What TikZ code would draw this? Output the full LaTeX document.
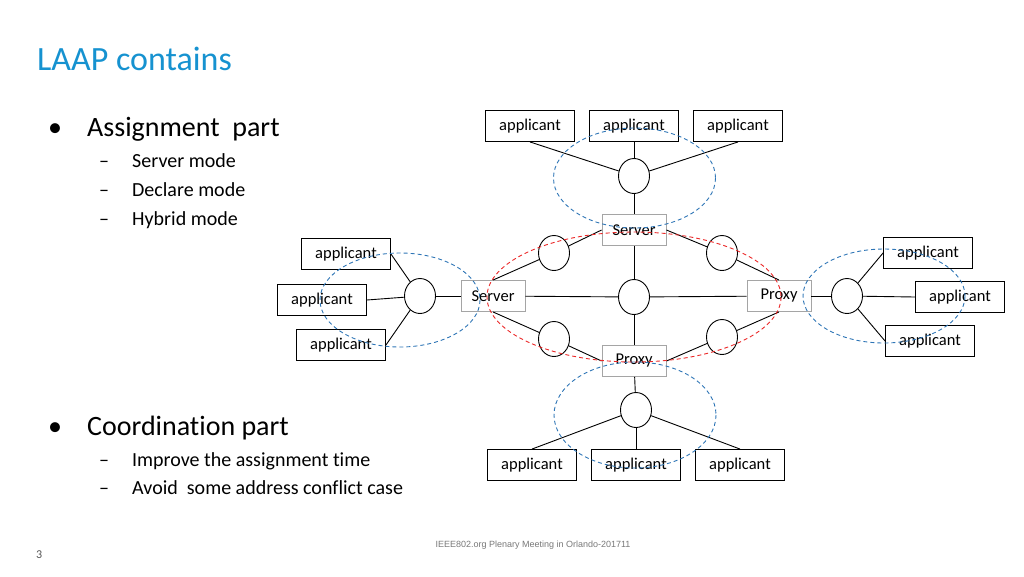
\documentclass[tikz,border=0pt]{standalone}
\usepackage{fontspec}
\setmainfont{Carlito}[Ligatures=NoCommon]
\newfontfamily\footfont{Liberation Sans}
\usepackage{tikz}
\usetikzlibrary{shapes.geometric,positioning}
\definecolor{titleblue}{RGB}{22,146,208}
\definecolor{zoneblue}{RGB}{46,117,182}
\definecolor{zonered}{RGB}{235,40,40}
\definecolor{hostgray}{RGB}{165,165,165}
\definecolor{footgray}{RGB}{120,120,120}

\begin{document}
\begin{tikzpicture}[x=1pt,y=-1pt,
  appbox/.style={draw=black,line width=0.9pt,minimum width=89pt,minimum height=31pt,inner sep=0pt,font=\fontsize{16.5}{18}\selectfont},
  hostbox/.style={draw=hostgray,fill=white,line width=0.9pt,minimum width=64pt,minimum height=31pt,inner sep=0pt,font=\fontsize{16.5}{18}\selectfont},
  hub/.style={draw=black,fill=white,ellipse,line width=0.9pt,minimum width=31pt,minimum height=35pt,inner sep=0pt},
  link/.style={draw=black,line width=0.9pt},
  zone/.style={dashed,dash pattern=on 4pt off 3pt,line width=0.9pt},
  slidetext/.style={anchor=base west,inner sep=0pt}]
  \useasboundingbox (0,0) rectangle (1024,576);

  % slide text
  \node[slidetext,text=titleblue,font=\fontsize{34}{40}\selectfont] (title) at (37,70) {LAAP contains};
  \node[slidetext,font=\fontsize{28}{32}\selectfont] (b1) at (48,136) {\makebox[39pt][l]{•}Assignment\ \ part};
  \node[slidetext,font=\fontsize{20}{24}\selectfont] (s1) at (99,167) {\makebox[33pt][l]{–}Server mode};
  \node[slidetext,font=\fontsize{20}{24}\selectfont] (s2) at (99,196) {\makebox[33pt][l]{–}Declare mode};
  \node[slidetext,font=\fontsize{20}{24}\selectfont] (s3) at (99,225) {\makebox[33pt][l]{–}Hybrid mode};
  \node[slidetext,font=\fontsize{28}{32}\selectfont] (b2) at (48,435) {\makebox[39pt][l]{•}Coordination part};
  \node[slidetext,font=\fontsize{20}{24}\selectfont] (s4) at (99,466) {\makebox[33pt][l]{–}Improve the assignment time};
  \node[slidetext,font=\fontsize{20}{24}\selectfont] (s5) at (99,494) {\makebox[33pt][l]{–}Avoid\ \ some address conflict case};
  \node[slidetext,text=footgray!70!black,font=\fontsize{12}{14}\selectfont] (pgno) at (36,558) {3};
  \node[text=footgray,font=\footfont\fontsize{9}{11}\selectfont] (foot) at (533,545) {IEEE802.org Plenary Meeting in Orlando-201711};

  % hubs
  \node[hub] (hT) at (634,176) {};
  \node[hub] (hL) at (420,296) {};
  \node[hub] (hR) at (847,296) {};
  \node[hub] (hB) at (636,410) {};
  \node[hub] (hC) at (634,297) {};
  \node[hub] (hUL) at (554,253) {};
  \node[hub] (hLL) at (554,339) {};
  \node[hub] (hUR) at (722,253) {};
  \node[hub] (hLR) at (722,337) {};

  % servers and proxies
  \node[hostbox] (srvT) at (634,230) {Server};
  \node[hostbox] (srvL) at (493,296) {Server};
  \node[hostbox] (prxR) at (779,296) {Proxy};
  \node[hostbox] (prxB) at (634,361) {Proxy};

  % applicants
  \node[appbox] (aT1) at (530,126) {applicant};
  \node[appbox] (aT2) at (634,126) {applicant};
  \node[appbox] (aT3) at (738,126) {applicant};
  \node[appbox] (aL1) at (346,254) {applicant};
  \node[appbox] (aL2) at (322,300) {applicant};
  \node[appbox] (aL3) at (341,345) {applicant};
  \node[appbox] (aR1) at (928,253) {applicant};
  \node[appbox] (aR2) at (960,297) {applicant};
  \node[appbox] (aR3) at (930,341) {applicant};
  \node[appbox] (aB1) at (532,465) {applicant};
  \node[appbox] (aB2) at (636,465) {applicant};
  \node[appbox] (aB3) at (740,465) {applicant};

  % links
  \draw[link] (aT1.south) -- (hT);
  \draw[link] (aT2) -- (hT);
  \draw[link] (aT3.south) -- (hT);
  \draw[link] (hT) -- (srvT);
  \draw[link] (aL1.east) -- (hL);
  \draw[link] (aL2.east) -- (hL);
  \draw[link] (aL3.east) -- (hL);
  \draw[link] (hL) -- (srvL);
  \draw[link] (aR1.west) -- (hR);
  \draw[link] (aR2.west) -- (hR);
  \draw[link] (aR3.west) -- (hR);
  \draw[link] (hR) -- (prxR);
  \draw[link] (aB1.north) -- (hB);
  \draw[link] (aB2) -- (hB);
  \draw[link] (aB3.north) -- (hB);
  \draw[link] (hB) -- (prxB);
  \draw[link] (srvT) -- (hC);
  \draw[link] (hC) -- (prxB);
  \draw[link] (srvL) -- (hC);
  \draw[link] (hC) -- (prxR);
  \draw[link] (srvT.west) -- (hUL);
  \draw[link] (srvL.north) -- (hUL);
  \draw[link] (srvT.east) -- (hUR);
  \draw[link] (prxR.north) -- (hUR);
  \draw[link] (srvL.south) -- (hLL);
  \draw[link] (prxB.west) -- (hLL);
  \draw[link] (prxR.south) -- (hLR);
  \draw[link] (prxB.east) -- (hLR);

  % dashed zones
  \draw[zone,zoneblue] (634.5,178) ellipse (81 and 50);
  \draw[zone,zoneblue] (400,300) ellipse (80 and 47);
  \draw[zone,zoneblue] (884,296) ellipse (81 and 47);
  \draw[zone,zoneblue] (635,415) ellipse (81 and 53);
  \draw[zone,zonered] (634,297) ellipse (147 and 65);
\end{tikzpicture}
\end{document}
